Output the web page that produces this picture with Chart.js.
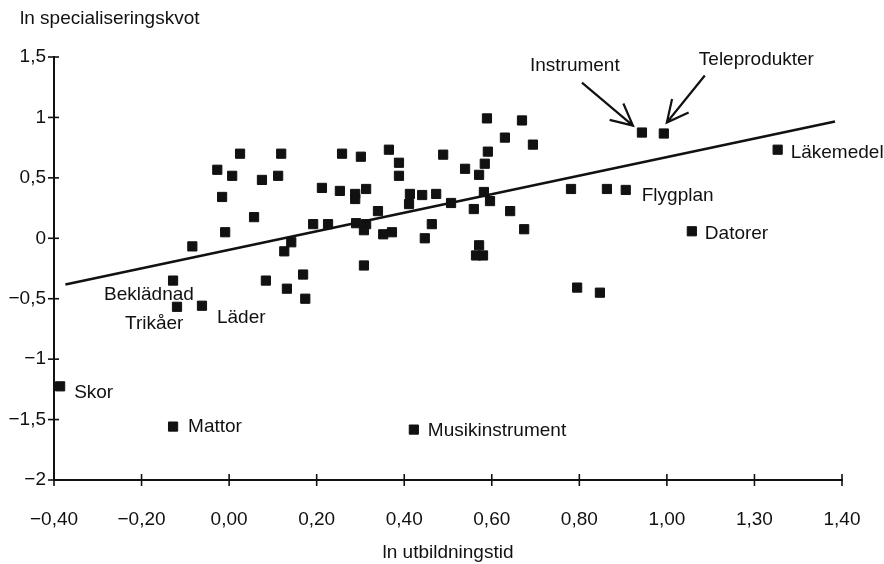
<!DOCTYPE html>
<html>
<head>
<meta charset="utf-8">
<script src="https://cdn.jsdelivr.net/npm/chart.js@4/dist/chart.umd.min.js"></script>
<style>
  body { margin: 0; background: #fff; }
  #wrap { width: 884px; height: 564px; }
</style>
</head>
<body>
<div id="wrap"><canvas id="c" width="884" height="564"></canvas></div>
<script>
// named points first (same order as pointNames), then the unnamed ones
const pointNames = ['Skor', 'Mattor', 'Musikinstrument', 'Beklädnad', 'Trikåer', 'Läder',
    'Flygplan', 'Datorer', 'Läkemedel', 'Instrument', 'Teleprodukter'];

const xValues = [
    -0.386, -0.128, 0.422, -0.128, -0.119, -0.062, 0.906, 1.057, 1.253, 0.943, 0.993,
    0.025, 0.119, 0.258, 0.301, 0.365, 0.388, 0.388, -0.027, 0.007, 0.075,
    0.112, 0.212, 0.253, 0.288, 0.313, 0.288, -0.016, 0.057, 0.340, 0.413,
    0.441, 0.411, -0.009, 0.192, 0.226, 0.290, 0.313, 0.308, 0.352, 0.372,
    0.463, 0.447, -0.084, 0.142, 0.126, 0.308, 0.169, 0.084, 0.132, 0.174,
    0.589, 0.669, 0.630, 0.694, 0.489, 0.591, 0.584, 0.539, 0.571, 0.473,
    0.507, 0.582, 0.596, 0.559, 0.642, 0.674, 0.571, 0.564, 0.580, 0.781,
    0.863, 0.795, 0.847
];
const yValues = [
    -1.225, -1.558, -1.583, -0.35, -0.567, -0.558, 0.40, 0.058, 0.733, 0.875, 0.867,
    0.70, 0.70, 0.70, 0.675, 0.733, 0.625, 0.517, 0.567, 0.517, 0.483,
    0.517, 0.417, 0.392, 0.367, 0.408, 0.325, 0.342, 0.175, 0.225, 0.367,
    0.358, 0.283, 0.05, 0.117, 0.117, 0.125, 0.117, 0.067, 0.033, 0.05,
    0.117, 0.0, -0.067, -0.033, -0.108, -0.225, -0.30, -0.35, -0.417, -0.50,
    0.992, 0.975, 0.833, 0.775, 0.692, 0.717, 0.617, 0.575, 0.525, 0.367,
    0.292, 0.383, 0.308, 0.242, 0.225, 0.075, -0.058, -0.142, -0.142, 0.408,
    0.408, -0.408, -0.45
];

// fitted line end points
const lineX = [-0.374, 1.384];
const lineY = [-0.383, 0.967];

const xTickLabels = ['−0,40', '−0,20', '0,00', '0,20', '0,40', '0,60', '0,80', '1,00', '1,30', '1,40'];
const yTickLabels = ['−2', '−1,5', '−1', '−0,5', '0', '0,5', '1', '1,5'];

const xTitle = 'ln utbildningstid';
const yTitle = 'ln specialiseringskvot';

// label placement relative to its point, in px: [dx, dy]
const labelOffsets = [[14, 6], [15, 0], [14, 1], [-69, 14], [-52, 17], [15, 12],
    [16, 6], [13, 2], [13, 3], [-112, -67], [35, -74]];
// arrows for Instrument / Teleprodukter: [pointIndex, startDx, startDy, tipDx, tipDy]
const arrows = [[9, -60, -50, -9, -7], [10, 41, -58, 3, -11]];

const FONT = '"Liberation Sans", Arial, Helvetica, sans-serif';
const INK = '#111';

const points = xValues.map((x, i) => ({ x: x, y: yValues[i] }));
const fitLine = lineX.map((x, i) => ({ x: x, y: lineY[i] }));

const decor = {
    id: 'decor',
    afterDraw(chart) {
        const ctx = chart.ctx;
        const xs = chart.scales.x, ys = chart.scales.y;
        const area = chart.chartArea;
        ctx.save();
        ctx.strokeStyle = INK;
        ctx.lineWidth = 1.6;
        // tick marks crossing the axes
        ys.ticks.forEach(t => {
            const py = ys.getPixelForValue(t.value);
            ctx.beginPath();
            ctx.moveTo(area.left - 6, py);
            ctx.lineTo(area.left + 5, py);
            ctx.stroke();
        });
        xs.ticks.forEach(t => {
            const px = xs.getPixelForValue(t.value);
            ctx.beginPath();
            ctx.moveTo(px, area.bottom - 6);
            ctx.lineTo(px, area.bottom + 6);
            ctx.stroke();
        });

        ctx.fillStyle = INK;
        ctx.font = '19px ' + FONT;
        ctx.textBaseline = 'middle';
        ctx.textAlign = 'left';
        ctx.fillText(yTitle, 20, 19);

        pointNames.forEach((name, i) => {
            const px = xs.getPixelForValue(xValues[i]);
            const py = ys.getPixelForValue(yValues[i]);
            ctx.fillText(name, px + labelOffsets[i][0], py + labelOffsets[i][1]);
        });

        ctx.lineWidth = 2.2;
        arrows.forEach(a => {
            const px = xs.getPixelForValue(xValues[a[0]]);
            const py = ys.getPixelForValue(yValues[a[0]]);
            const sx = px + a[1], sy = py + a[2];
            const tx = px + a[3], ty = py + a[4];
            const ang = Math.atan2(sy - ty, sx - tx);
            const head = 24, spread = 0.46;
            ctx.beginPath();
            ctx.moveTo(sx, sy);
            ctx.lineTo(tx, ty);
            ctx.moveTo(tx + head * Math.cos(ang - spread), ty + head * Math.sin(ang - spread));
            ctx.lineTo(tx, ty);
            ctx.lineTo(tx + head * Math.cos(ang + spread), ty + head * Math.sin(ang + spread));
            ctx.stroke();
        });
        ctx.restore();
    }
};

new Chart(document.getElementById('c'), {
    type: 'scatter',
    data: {
        datasets: [
            {
                data: points,
                pointStyle: 'rect',
                pointRadius: 6.5,
                pointBorderWidth: 1,
                pointBackgroundColor: INK,
                pointBorderColor: INK
            },
            {
                data: fitLine,
                showLine: true,
                pointRadius: 0,
                borderColor: INK,
                borderWidth: 2.6
            }
        ]
    },
    options: {
        responsive: false,
        animation: false,
        devicePixelRatio: 1,
        layout: { padding: { left: 0, right: 42, top: 57, bottom: 0 } },
        plugins: { legend: { display: false }, tooltip: { enabled: false } },
        scales: {
            x: {
                type: 'linear',
                min: -0.4,
                max: 1.4,
                afterFit: s => { s.height = 84; s.paddingLeft = 0; s.paddingRight = 0; },
                grid: { display: false, drawTicks: false },
                border: { display: true, color: INK, width: 2 },
                ticks: {
                    stepSize: 0.2,
                    padding: 28,
                    color: INK,
                    font: { family: FONT, size: 19 },
                    maxRotation: 0,
                    autoSkip: false,
                    callback: (v, i) => xTickLabels[i]
                },
                title: {
                    display: true,
                    text: xTitle,
                    color: INK,
                    font: { family: FONT, size: 19 },
                    padding: { top: 0, bottom: 0 }
                }
            },
            y: {
                type: 'linear',
                min: -2,
                max: 1.5,
                afterFit: s => { s.width = 54; s.paddingTop = 0; s.paddingBottom = 0; },
                grid: { display: false, drawTicks: false },
                border: { display: true, color: INK, width: 2 },
                ticks: {
                    stepSize: 0.5,
                    padding: 8,
                    color: INK,
                    font: { family: FONT, size: 19 },
                    autoSkip: false,
                    callback: (v, i) => yTickLabels[i]
                }
            }
        }
    },
    plugins: [decor]
});
</script>
</body>
</html>
